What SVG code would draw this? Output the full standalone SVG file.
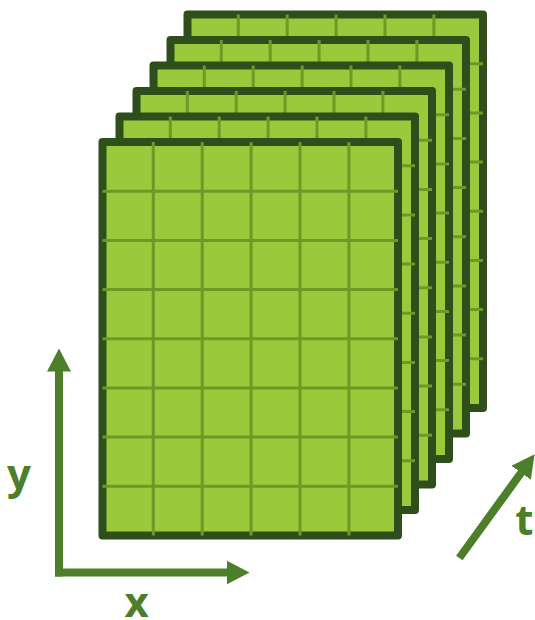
<svg xmlns="http://www.w3.org/2000/svg" xmlns:xlink="http://www.w3.org/1999/xlink" width="535" height="620" viewBox="0 0 535 620">
<style>
.frame{fill:#9aca3c;stroke:#2e4f1c;stroke-width:8;stroke-linejoin:round}
.grid{fill:none;stroke:#6d9a26;stroke-width:3}
.axis{fill:none;stroke:#4d7e2a;stroke-width:8;stroke-linecap:butt}
.lbl{font-family:"Open Sans","Liberation Sans",sans-serif;font-weight:bold;font-size:42px;fill:#4d7e2a;text-anchor:middle}
</style>
<defs>
<g id="tpl">
<rect class="frame" x="0" y="0" width="295.5" height="393.5"/>
<path class="grid" d="M50.8,0V393.5M99.7,0V393.5M148.6,0V393.5M197.5,0V393.5M246.4,0V393.5M0,49.2H295.5M0,98.4H295.5M0,147.5H295.5M0,196.7H295.5M0,245.9H295.5M0,295.1H295.5M0,344.3H295.5"/>
</g>
<marker id="ah" markerUnits="userSpaceOnUse" markerWidth="24" markerHeight="24" viewBox="0 0 24 24" refX="1" refY="12" orient="auto">
<path d="M0,0L23,12L0,24z" fill="#4d7e2a"/>
</marker>
</defs>
<g id="frame6"><use xlink:href="#tpl" transform="translate(187.5,14.5)"/></g>
<g id="frame5"><use xlink:href="#tpl" transform="translate(170.5,40)"/></g>
<g id="frame4"><use xlink:href="#tpl" transform="translate(153.5,65.5)"/></g>
<g id="frame3"><use xlink:href="#tpl" transform="translate(136.5,91)"/></g>
<g id="frame2"><use xlink:href="#tpl" transform="translate(119.5,116.5)"/></g>
<g id="frame1"><use xlink:href="#tpl" transform="translate(102.5,142)"/></g>
<g id="connectors">
<path class="axis" d="M59,576.5V370.5" marker-end="url(#ah)"/>
<path class="axis" d="M55,572.5H227.5" marker-end="url(#ah)"/>
<path class="axis" d="M459.3,558L521.7,472" marker-end="url(#ah)"/>
</g>
<g id="labels">
<text class="lbl" x="19" y="489">y</text>
<text class="lbl" x="136.7" y="617">x</text>
<text class="lbl" x="524.4" y="535">t</text>
</g>
</svg>
